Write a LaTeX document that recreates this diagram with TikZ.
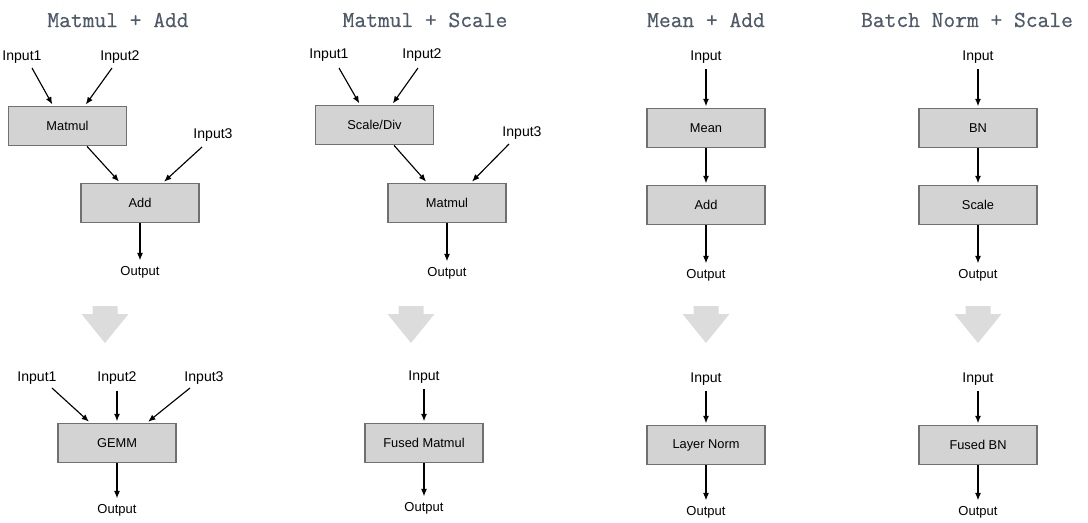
\documentclass[tikz,border=0pt]{standalone}
\usepackage{fontspec}
\setmainfont{Liberation Sans}
\newfontfamily\headfont[FakeBold=0.6]{Latin Modern Mono}
\usepackage{tikz}
\usetikzlibrary{arrows.meta,calc}
\definecolor{titlegray}{RGB}{78,90,106}
\definecolor{boxfill}{RGB}{211,211,211}
\definecolor{boxline}{RGB}{112,112,112}
\definecolor{fusegray}{RGB}{220,220,220}
\tikzstyle{op}=[rectangle, fill=boxfill, draw=boxline, line width=1pt, minimum width=2.36cm, minimum height=0.78cm, inner sep=0pt, font=\fontsize{7.3}{8.5}\selectfont]
\tikzstyle{inlabel}=[inner sep=1pt, outer ysep=2.5pt, font=\fontsize{8}{9.5}\selectfont]
\tikzstyle{outlabel}=[inner sep=1pt, outer ysep=1.5pt, font=\fontsize{7.4}{8.8}\selectfont]
\tikzstyle{heading}=[inner sep=0pt, text=titlegray, font=\headfont\fontsize{13}{15}\selectfont]
\tikzstyle{flow}=[draw, line width=0.65pt, black, -{Latex[length=4.2pt,width=3.4pt]}, shorten >=0.8pt]
\tikzstyle{fuse}=[fill=fusegray, draw=none]

\begin{document}
\begin{tikzpicture}[x=0.02cm, y=-0.02cm]
	\useasboundingbox (0,0) rectangle (1088,522);

	% titles
	\node[heading] (t1) at (118,20) {Matmul + Add};
	\node[heading] (t2) at (425,20) {Matmul + Scale};
	\node[heading] (t3) at (706,20) {Mean + Add};
	\node[heading] (t4) at (967,20) {Batch Norm + Scale};

	% Matmul + Add
	\node[inlabel] (in1a) at (22,57) {Input1};
	\node[inlabel] (in2a) at (120,57) {Input2};
	\node[op] (mma) at (67.5,126) {Matmul};
	\node[inlabel] (in3a) at (213,135) {Input3};
	\node[op] (adda) at (140,203) {Add};
	\node[outlabel] (outa) at (140,272) {Output};

	\draw[flow] ($(in1a)+(10,11)$) -- ($(mma.north)+(-14.5,0)$);
	\draw[flow] ($(in2a)+(-8,11)$) -- ($(mma.north)+(17.5,0)$);
	\draw[flow] ($(in3a)+(-11,12)$) -- ($(adda.north)+(23,0)$);
	\draw[flow] ($(mma.south)+(19.5,0)$) -- ($(adda.north)+(-20,0)$);
	\draw[flow] (adda) -- (outa);

	\node[inlabel] (in1b) at (37,378) {Input1};
	\node[inlabel] (in2b) at (117,378) {Input2};
	\node[inlabel] (in3b) at (204,378) {Input3};
	\node[op] (gemm) at (117,443) {GEMM};
	\node[outlabel] (outb) at (117,510) {Output};

	\draw[flow] ($(in1b)+(15,10)$) -- ($(gemm.north)+(-27,0)$);
	\draw[flow] (in2b) -- (gemm);
	\draw[flow] ($(in3b)+(-14,10)$) -- ($(gemm.north)+(30,0)$);
	\draw[flow] (gemm) -- (outb);

	% Matmul + Scale
	\node[inlabel] (in1c) at (329,55) {Input1};
	\node[inlabel] (in2c) at (422,55) {Input2};
	\node[op] (sdiv) at (374.5,125) {Scale/Div};
	\node[inlabel] (in3c) at (522,133) {Input3};
	\node[op] (mmc) at (447,203) {Matmul};
	\node[outlabel] (outc) at (447,273) {Output};

	\draw[flow] ($(in1c)+(10,13)$) -- ($(sdiv.north)+(-14.5,0)$);
	\draw[flow] ($(in2c)+(-4,13)$) -- ($(sdiv.north)+(17.5,0)$);
	\draw[flow] ($(in3c)+(-13,11)$) -- ($(mmc.north)+(24,0)$);
	\draw[flow] ($(sdiv.south)+(19.5,0)$) -- ($(mmc.north)+(-20,0)$);
	\draw[flow] (mmc) -- (outc);

	\node[inlabel] (inc) at (424,377) {Input};
	\node[op] (fmm) at (424,443) {Fused Matmul};
	\node[outlabel] (outd) at (424,508) {Output};
	\draw[flow] (inc) -- (fmm);
	\draw[flow] (fmm) -- (outd);

	% Mean + Add
	\node[inlabel] (ine) at (706,57) {Input};
	\node[op] (mean) at (706,128) {Mean};
	\node[op] (adde) at (706,205) {Add};
	\node[outlabel] (oute) at (706,275) {Output};

	\node[inlabel] (inf) at (706,379) {Input};
	\node[op] (lnorm) at (706,445) {Layer Norm};
	\node[outlabel] (outf) at (706,512) {Output};

	% Batch Norm + Scale
	\node[inlabel] (ing) at (978,57) {Input};
	\node[op] (bn) at (978,128) {BN};
	\node[op] (scl) at (978,205) {Scale};
	\node[outlabel] (outg) at (978,275) {Output};

	\node[inlabel] (inh) at (978,379) {Input};
	\node[op] (fbn) at (978,445) {Fused BN};
	\node[outlabel] (outh) at (978,512) {Output};

	\foreach \source/\target in {ine/mean, mean/adde, adde/oute, inf/lnorm, lnorm/outf, ing/bn, bn/scl, scl/outg, inh/fbn, fbn/outh}{
		\draw[flow] (\source) -- (\target);
	}

	% fusion arrows
	\foreach \x in {105, 411, 706, 978}{
		\fill[fuse] (\x-12.5,306) -- (\x+12.5,306) -- (\x+12.5,314) -- (\x+23.5,314)
			-- (\x,343) -- (\x-23.5,314) -- (\x-12.5,314) -- cycle;
	}
\end{tikzpicture}
\end{document}
